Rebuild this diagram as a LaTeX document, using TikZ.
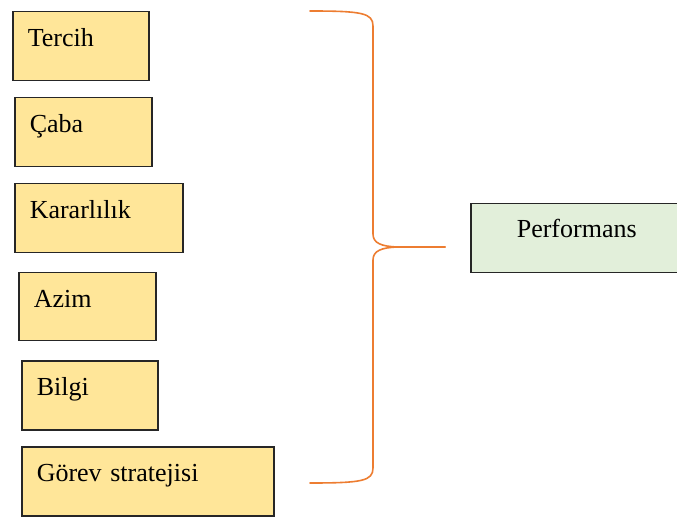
\documentclass[tikz,border=0pt]{standalone}
\usepackage{fontspec}
\setmainfont{Liberation Serif}
\definecolor{factorfill}{HTML}{FFE699}
\definecolor{resultfill}{HTML}{E2EFDA}
\definecolor{braceorange}{HTML}{ED7D31}
\begin{document}
\begin{tikzpicture}[x=1pt,y=1pt,
  box/.style={draw=black!85, line width=1.5pt, anchor=north west,
    inner xsep=15pt, inner ysep=0pt, text height=35pt, text depth=34pt,
    align=left, font=\fontsize{26}{30}\selectfont},
  factor/.style={box, fill=factorfill},
  result/.style={box, fill=resultfill, align=center},
  brace/.style={draw=braceorange, line width=1.6pt, line cap=round, line join=round}]
\useasboundingbox (0,0) rectangle (677,-518);

% factor boxes down the left side
\node[factor, text width=106pt] (tercih)  at (12,-11)  {Tercih};
\node[factor, text width=107pt] (caba)    at (14,-97)  {Çaba};
\node[factor, text width=138pt] (kararl)  at (14,-183) {Kararlılık};
\node[factor, text width=107pt, text depth=33pt] (azim) at (18,-272) {Azim};
\node[factor, text width=106pt] (bilgi)   at (21,-360) {Bilgi};
\node[factor, text width=222pt] (gorev)   at (21,-446) {Görev stratejisi};

% outcome box, running past the right margin
\node[result, text width=182pt, text height=34pt, text depth=35pt] (perf) at (470,-203) {Performans};

% curly brace gathering the factors
\coordinate (btop) at (310,-11);
\coordinate (bbot) at (310,-483);
\coordinate (btip) at (445,-247);
\draw[brace] (btop) .. controls (362,-11) and (373,-13) .. (373,-26)
  -- (373,-234) .. controls (373,-243) and (381,-246.5) .. (398,-247) -- (btip);
\draw[brace] (btip) -- (398,-247) .. controls (381,-247.5) and (373,-251) .. (373,-260)
  -- (373,-468) .. controls (373,-481) and (362,-483) .. (bbot);
\end{tikzpicture}
\end{document}
